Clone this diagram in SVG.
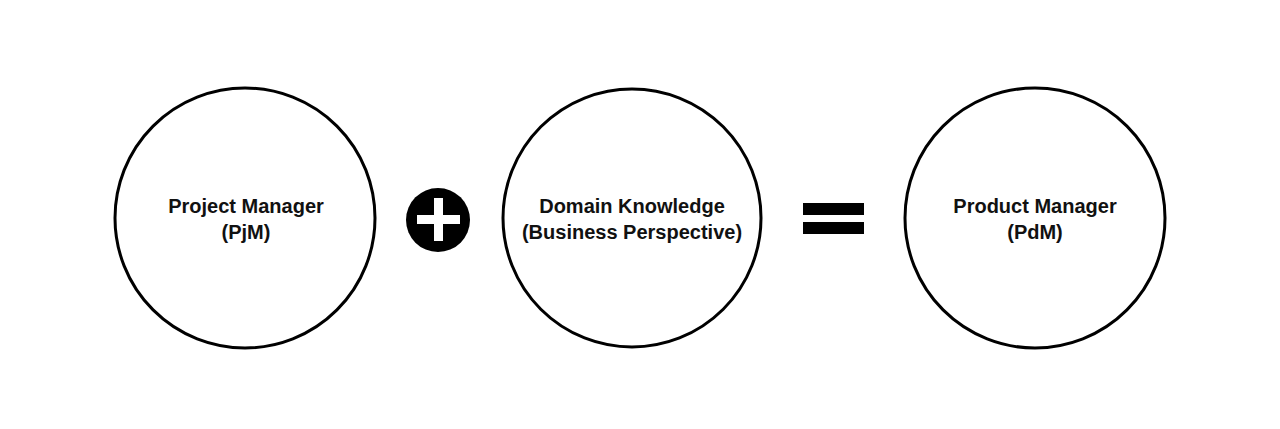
<svg xmlns="http://www.w3.org/2000/svg" width="1280" height="429" viewBox="0 0 1280 429">
<style>
.node{fill:#fff;stroke:#000;stroke-width:3}
.lbl{font-family:"Liberation Sans",Arial,sans-serif;font-weight:bold;font-size:20px;fill:#111;text-anchor:middle}
</style>
<rect width="1280" height="429" fill="#fff"/>
<g id="pjm">
<circle class="node" cx="245" cy="218" r="130"/>
<text class="lbl" x="246" y="213">Project Manager</text>
<text class="lbl" x="246" y="239">(PjM)</text>
</g>
<g id="plus">
<circle cx="438" cy="220" r="32" fill="#000"/>
<rect x="417" y="215" width="43" height="9" fill="#fff"/>
<rect x="434" y="198" width="9" height="43" fill="#fff"/>
</g>
<g id="domain">
<circle class="node" cx="632" cy="218" r="129"/>
<text class="lbl" x="632" y="213">Domain Knowledge</text>
<text class="lbl" x="632" y="239">(Business Perspective)</text>
</g>
<g id="equals">
<rect x="803" y="203" width="61" height="12" fill="#000"/>
<rect x="803" y="222" width="61" height="12" fill="#000"/>
</g>
<g id="pdm">
<circle class="node" cx="1035" cy="218" r="130"/>
<text class="lbl" x="1035" y="213">Product Manager</text>
<text class="lbl" x="1035" y="239">(PdM)</text>
</g>
<g id="connectors"></g>
</svg>
